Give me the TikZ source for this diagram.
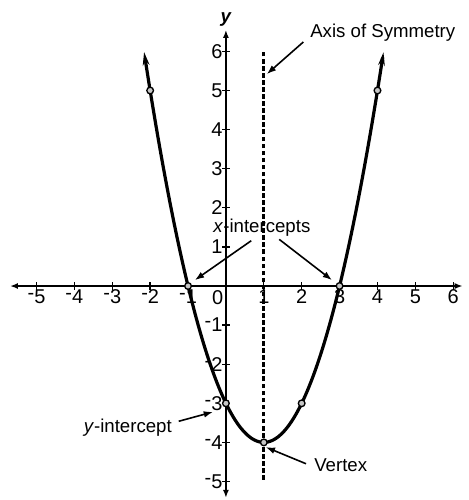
\documentclass[tikz,border=0pt]{standalone}
\usepackage{fontspec}
\setmainfont{Liberation Sans}
\usepackage{tikz}
\usetikzlibrary{arrows.meta, positioning}
\newcommand{\negnum}[1]{\raisebox{0.2em}{-}#1}
\tikzset{
  axisline/.style={line width=1.3pt, {Latex[length=6pt,width=4.5pt]}-{Latex[length=6pt,width=4.5pt]}},
  tickmark/.style={line width=1pt},
  curveline/.style={line width=2.4pt, {Stealth[length=10pt,width=5pt,open]}-{Stealth[length=10pt,width=5pt,open]}},
  symline/.style={line width=2.4pt, dash pattern=on 3.5pt off 1.8pt},
  ptdot/.style={circle, draw, fill=gray!45, inner sep=0pt, minimum size=5pt, line width=1pt},
  lbl/.style={font=\fontsize{14}{16}\selectfont, inner sep=1pt},
  ticklbl/.style={font=\fontsize{15}{17}\selectfont, inner sep=1pt},
  pointer/.style={-{Latex[length=7pt,width=5pt]}, line width=1.2pt}
}

\begin{document}
\begin{tikzpicture}[x=1cm, y=1.032cm]
  \useasboundingbox (-5.963,-5.473) rectangle (6.412,7.315);

  % Axes
  \draw[axisline] (-5.70,0) -- (6.25,0);
  \draw[axisline] (0,-5.42) -- (0,6.55);
  \node[font=\fontsize{14}{16}\selectfont\itshape\bfseries] (ylbl) at (0,6.82) {y};

  % Ticks and tick labels
  \foreach \i in {-5,...,-1}
    \draw[tickmark] (\i,-0.1) -- (\i,0.1) node[ticklbl, below=4pt] {\negnum{\the\numexpr-\i\relax}};
  \foreach \i in {1,...,6}
    \draw[tickmark] (\i,-0.1) -- (\i,0.1) node[ticklbl, below=4pt] {\i};
  \foreach \j in {1,...,6}
    \draw[tickmark] (-0.1,\j) -- (0.1,\j) node[ticklbl, anchor=east] at (-0.04,\j) {\j};
  \foreach \j in {-5,...,-1}
    \draw[tickmark] (-0.1,\j) -- (0.1,\j) node[ticklbl, anchor=east] at (-0.04,\j) {\negnum{\the\numexpr-\j\relax}};
  \node[ticklbl] (orig) at (-0.22,-0.3) {0};

  % Axis of symmetry
  \draw[symline] (1,-4.96) -- (1,6);

  % Parabola
  \draw[curveline] plot[domain=-2.16:4.16, samples=90, smooth] (\x, {(\x-1)^2-4});

  % Points on the curve
  \node[ptdot] (pA) at (-2,5) {};
  \node[ptdot] (pB) at (-1,0) {};
  \node[ptdot] (pC) at (0,-3) {};
  \node[ptdot] (pD) at (1,-4) {};
  \node[ptdot] (pE) at (2,-3) {};
  \node[ptdot] (pF) at (3,0) {};
  \node[ptdot] (pG) at (4,5) {};

  % Labels with pointers
  \node[lbl] (symlbl) at (4.14,6.47) {Axis of Symmetry};
  \coordinate (symtip) at (1.08,5.42);
  \draw[pointer] ([xshift=-4pt,yshift=1pt]symlbl.south west) -- (symtip);

  \node[lbl] (xlbl) at (0.95,1.49) {\textit{x}-intercepts};
  \coordinate (xtipL) at (-0.82,0.15);
  \coordinate (xtipR) at (2.80,0.15);
  \draw[pointer] ([xshift=-8pt,yshift=-2pt]xlbl.south) -- (xtipL);
  \draw[pointer] ([xshift=13pt,yshift=-1pt]xlbl.south) -- (xtipR);

  \node[lbl] (yintlbl) at (-2.59,-3.63) {\textit{y}-intercept};
  \coordinate (ytip) at (-0.34,-3.22);
  \draw[pointer] ([xshift=4pt,yshift=5pt]yintlbl.east) -- (ytip);

  \node[lbl] (vlbl) at (3.03,-4.58) {Vertex};
  \coordinate (vtip) at (1.05,-4.12);
  \draw[pointer] ([xshift=-5pt,yshift=1pt]vlbl.west) -- (vtip);
\end{tikzpicture}
\end{document}
